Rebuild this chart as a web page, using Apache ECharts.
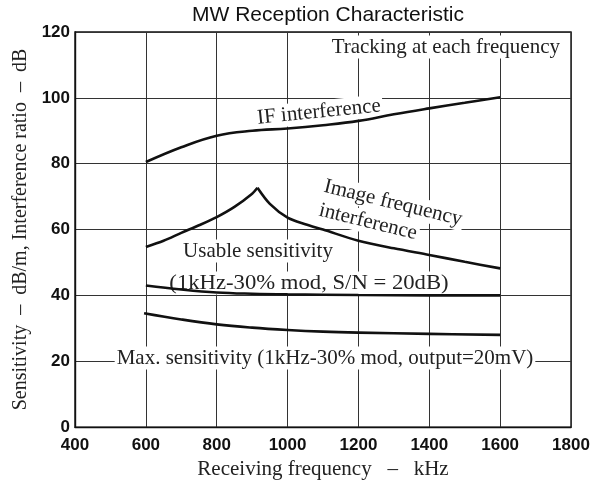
<!DOCTYPE html>
<html><head><meta charset="utf-8">
<script src="https://cdn.jsdelivr.net/npm/echarts@6/dist/echarts.min.js"></script>
<style>html,body{margin:0;padding:0;background:#fff}#c{width:602px;height:485px}</style>
</head><body><div id="c"></div>
<script>
// ---- data ----
var xTicks = [400, 600, 800, 1000, 1200, 1400, 1600, 1800];
var yTicks = [0, 20, 40, 60, 80, 100, 120];
var ifFreq = [600, 700, 800, 900, 1000, 1100, 1200, 1300, 1400, 1500, 1600];
var ifVals = [80.5, 85.0, 88.5, 90.0, 90.7, 91.7, 93.0, 95.0, 96.8, 98.5, 100.2];
var imgRiseFreq = [600, 650, 700, 750, 800, 850, 900, 915];
var imgRiseVals = [54.7, 56.6, 59.0, 61.3, 63.8, 66.9, 70.9, 72.7];
var imgFallFreq = [915, 950, 1000, 1050, 1100, 1200, 1300, 1400, 1500, 1600];
var imgFallVals = [72.7, 67.8, 63.6, 61.6, 60.0, 56.6, 54.3, 52.3, 50.2, 48.2];
var usableFreq = [600, 700, 800, 900, 1000, 1200, 1400, 1600];
var usableVals = [43.0, 41.8, 40.9, 40.5, 40.3, 40.1, 40.0, 40.0];
var maxFreq = [595, 700, 800, 900, 1000, 1100, 1200, 1400, 1600];
var maxVals = [34.6, 32.7, 31.2, 30.2, 29.5, 29.0, 28.7, 28.3, 28.0];

function pairs(xs, ys){ return xs.map(function(x,i){ return [x, ys[i]]; }); }

var chart = echarts.init(document.getElementById('c'), null, {renderer:'canvas'});
var serif = '"Liberation Serif", "Times New Roman", serif';
var tickFont = '"Liberation Sans", Arial, sans-serif';
var lineStyle = {color:'#111', width:2.6};
function curve(name, xs, ys, smooth){
  return {name:name, type:'line', data:pairs(xs, ys), smooth:smooth, showSymbol:false,
    symbol:'none', lineStyle:lineStyle, silent:true, z:20};
}
function note(text, x, y, opts){
  opts = opts || {};
  return {type:'text', x:x, y:y, rotation:opts.rot || 0, scaleX:opts.sx || 1, z:1,
    style:{text:text, font:'21px '+serif, fill:'#222', align:opts.align || 'center',
      verticalAlign:'middle', backgroundColor:'#fff', padding:[1,2]}};
}
var option = {
  backgroundColor:'#fff',
  animation:false,
  title:{text:'MW Reception Characteristic', left:323, top:0, textAlign:'center',
    textStyle:{fontFamily:'"Liberation Sans", Arial, sans-serif', fontWeight:'normal', fontSize:21, color:'#111'}},
  grid:{left:75, right:31, top:32, bottom:53, show:true, borderColor:'#111', borderWidth:1.4},
  xAxis:{type:'value', min:xTicks[0], max:xTicks[xTicks.length-1], interval:200,
    name:'Receiving frequency   –   kHz', nameLocation:'middle', nameGap:29,
    nameTextStyle:{fontFamily:serif, fontSize:21, color:'#222'},
    axisLine:{show:true, lineStyle:{color:'#111', width:1.4}}, axisTick:{show:false},
    axisLabel:{margin:10, fontFamily:tickFont, fontSize:17, fontWeight:'bold', color:'#111', formatter:function(v){return String(v);}},
    splitLine:{show:true, lineStyle:{color:'#333', width:1}}},
  yAxis:{type:'value', min:yTicks[0], max:yTicks[yTicks.length-1], interval:20,
    name:'Sensitivity  –  dB/m, Interference ratio  –  dB', nameLocation:'middle', nameGap:43,
    nameTextStyle:{fontFamily:serif, fontSize:20, color:'#222'},
    axisLine:{show:true, lineStyle:{color:'#111', width:1.4}}, axisTick:{show:false},
    axisLabel:{margin:5, fontFamily:tickFont, fontSize:17, fontWeight:'bold', color:'#111', formatter:function(v){return String(v);}},
    splitLine:{show:true, lineStyle:{color:'#333', width:1}}},
  series:[
    curve('IF interference', ifFreq, ifVals, 0.4),
    curve('Image rise', imgRiseFreq, imgRiseVals, 0.3),
    curve('Image fall', imgFallFreq, imgFallVals, 0.3),
    curve('Usable sensitivity', usableFreq, usableVals, 0.4),
    curve('Max sensitivity', maxFreq, maxVals, 0.4)
  ],
  graphic:[
    note('Tracking at each frequency', 562, 47, {align:'right'}),
    note('IF interference', 319, 112, {rot:0.1}),
    note('Image frequency', 393, 203, {rot:-0.24}),
    note('interference', 368, 222, {rot:-0.24}),
    note('Usable sensitivity', 258, 251),
    note('(1kHz-30% mod, S/N = 20dB)', 309, 283, {sx:1.08}),
    note('Max. sensitivity (1kHz-30% mod, output=20mV)', 325, 358)
  ]
};
chart.setOption(option);
</script></body></html>
